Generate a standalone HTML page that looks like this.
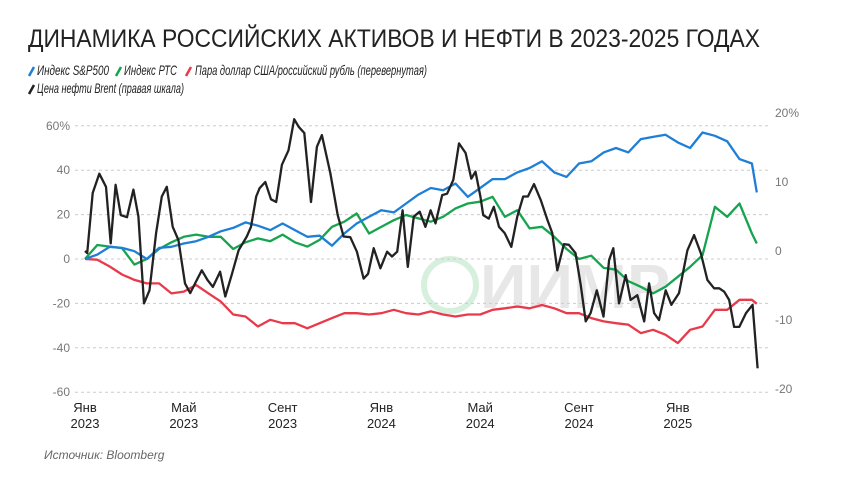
<!DOCTYPE html>
<html><head><meta charset="utf-8"><style>
body{margin:0;background:#fff;}
svg{display:block;font-family:"Liberation Sans",sans-serif;}
</style></head><body>
<svg id="chart" width="860" height="484" viewBox="0 0 860 484">
<rect width="860" height="484" fill="#fff"/>
<text x="28" y="47" font-size="25" fill="#222" textLength="732" lengthAdjust="spacingAndGlyphs">ДИНАМИКА РОССИЙСКИХ АКТИВОВ И НЕФТИ В 2023-2025 ГОДАХ</text>
<g font-size="14" font-style="italic" fill="#222">
<g><line x1="29" y1="76" x2="34" y2="67" stroke="#1f7fd6" stroke-width="2.5"/><text x="37" y="75" textLength="72" lengthAdjust="spacingAndGlyphs">Индекс S&amp;P500</text></g>
<g><line x1="116" y1="76" x2="121" y2="67" stroke="#17a44f" stroke-width="2.5"/><text x="124" y="75" textLength="53" lengthAdjust="spacingAndGlyphs">Индекс РТС</text></g>
<g><line x1="186" y1="76" x2="191" y2="67" stroke="#e83a4a" stroke-width="2.5"/><text x="195" y="75" textLength="232" lengthAdjust="spacingAndGlyphs">Пара доллар США/российский рубль (перевернутая)</text></g>
<g><line x1="29" y1="94" x2="34" y2="85" stroke="#222" stroke-width="2.5"/><text x="37" y="93" textLength="147" lengthAdjust="spacingAndGlyphs">Цена нефти Brent (правая шкала)</text></g>
</g>
<g id="watermark" opacity="0.35">
<circle cx="450" cy="285" r="26" fill="none" stroke="#8fd39f" stroke-width="6"/>
<text x="480" y="308" font-size="62" font-weight="bold" fill="#bbb" textLength="190" lengthAdjust="spacingAndGlyphs">ИИМР</text>
</g>
<g id="grid"></g><g id="axes"></g><g id="series"></g>
<text x="44" y="459" font-size="12" font-style="italic" fill="#666">Источник: Bloomberg</text>
</svg>
<script>
const leftTicks=[60,40,20,0,-20,-40,-60];
const rightTicks=[20,10,0,-10,-20];
const xTickMonths=[0,4,8,12,16,20,24];
const xTickLabels=[["Янв","2023"],["Май","2023"],["Сент","2023"],["Янв","2024"],["Май","2024"],["Сент","2024"],["Янв","2025"]];
const months=[0,0.5,1,1.5,2,2.5,3,3.5,4,4.5,5,5.5,6,6.5,7,7.5,8,8.5,9,9.5,10,10.5,11,11.5,12,12.5,13,13.5,14,14.5,15,15.5,16,16.5,17,17.5,18,18.5,19,19.5,20,20.5,21,21.5,22,22.5,23,23.5,24,24.5,25,25.5,26,26.5,27,27.2];
const sp500=[0,2,5.5,5,3.5,0,5,5.5,7,8,10,12.5,14,16.5,15,13,16,13,10,10.5,6,11.5,16,19,22,21,25,29,32,31,34,28,32,36,36,39,41,44,39,37,43,44,48,50,48,54,55,56,52.5,50,57,55.5,53,45,43,30];
const rts=[0,6.3,5.6,4.9,-2.5,0,4.5,7.5,10,11,10,10,4.5,7.5,9.3,8,11,7.5,5.6,8.6,14.5,16.8,20.5,11.5,14.5,17.5,19.8,18.3,16.8,19,22.8,25,25.8,28,19,22,13.8,14.5,10,4.5,0,1.5,-4,-4.8,-10,-12.5,-15.5,-12.5,-8,-3.5,1.7,23.5,19,25,11.5,7];
const usdrub=[0,-0.3,-3.4,-7,-9.4,-11,-11,-15.5,-14.7,-11.7,-15.5,-19.2,-25,-25.9,-30.4,-27.4,-28.9,-28.9,-31.2,-28.9,-26.6,-24.4,-24.4,-25,-24.4,-22.9,-24.4,-25,-23.6,-25,-25.9,-25,-25,-22.9,-22.2,-21.4,-22.2,-20.7,-22.2,-24.4,-24.4,-26.6,-28.1,-28.9,-29.6,-33.4,-31.9,-34.1,-37.9,-31.9,-30.4,-22.9,-22.9,-18.4,-18.4,-20.2];
const brentMonths=[0.09,0.31,0.58,0.85,1.04,1.24,1.45,1.70,1.96,2.16,2.39,2.61,2.88,3.11,3.31,3.55,3.78,4.05,4.26,4.5,4.73,4.96,5.18,5.47,5.68,5.95,6.22,6.55,6.72,6.93,7.07,7.30,7.53,7.74,7.97,8.24,8.47,8.65,8.88,9.15,9.39,9.59,9.93,10.23,10.47,10.74,11.01,11.28,11.46,11.69,11.96,12.23,12.43,12.64,12.86,13.07,13.31,13.55,13.78,13.99,14.19,14.46,14.66,14.91,15.14,15.41,15.64,15.81,16.01,16.12,16.35,16.55,16.76,16.99,17.26,17.5,17.74,17.93,18.18,18.45,18.72,18.92,19.12,19.39,19.59,19.86,20.07,20.27,20.47,20.72,20.99,21.22,21.39,21.62,21.89,22.09,22.36,22.64,22.84,23.04,23.24,23.51,23.74,24.05,24.39,24.66,24.93,25.2,25.47,25.68,25.88,26.08,26.28,26.49,26.76,27.03,27.23];
const brent=[-0.3,8.4,11.2,9.3,1.1,9.6,5.2,4.9,8.9,5.0,-7.6,-5.7,2.6,7.9,9.3,3.5,1.6,-4.7,-6.1,-4.4,-2.8,-4.2,-5.2,-3.0,-6.6,-3.3,0.1,2.1,3.5,7.9,9.1,10.0,7.5,7.1,12.5,14.6,19.1,18.0,17.1,7.1,15.1,16.8,11.3,5.2,2.1,2.0,-0.1,-4.0,-3.3,0.4,-2.5,-0.1,-0.8,-0.1,5.9,-2.3,5.0,5.7,3.5,5.9,4.0,8.1,8.3,10.3,15.6,14.2,10.5,11.5,7.9,5.2,4.7,6.4,3.5,2.6,0.6,5.0,7.9,7.9,9.7,7.4,4.5,2.6,-2.8,1.0,0.9,-0.3,-4.9,-10.2,-9.0,-5.7,-9.5,-1.3,0.4,-7.6,-3.5,-7.1,-6.4,-10.2,-4.7,-9.0,-10.0,-5.7,-7.8,-6.1,0.1,2.3,-0.3,-4.2,-5.4,-5.4,-5.9,-7.1,-11.0,-11.0,-9.0,-7.8,-17.0];

const NS="http://www.w3.org/2000/svg";
const xS=m=>85+24.7*m;
const yL=v=>259-v*2.22;
const yR=v=>251-v*6.9;
function mk(tag,attrs,parent){const e=document.createElementNS(NS,tag);for(const k in attrs)e.setAttribute(k,attrs[k]);parent.appendChild(e);return e;}
const grid=document.getElementById('grid'),axes=document.getElementById('axes'),ser=document.getElementById('series');
leftTicks.forEach(t=>{
  const l=mk('line',{x1:75,x2:770,y1:yL(t),y2:yL(t),stroke:'#ccc','stroke-width':1,'stroke-dasharray':'3,3'},grid);
  
  
  const tx=mk('text',{x:70,y:yL(t)+4,'text-anchor':'end','font-size':12,fill:'#777'},axes);
  tx.textContent=t===60?'60%':String(t);
  
  
});
rightTicks.forEach(t=>{
  const tx=mk('text',{x:775,y:yR(t)+4,'font-size':12,fill:'#777'},axes);
  tx.textContent=t===20?'20%':String(t);
  
  
});
xTickMonths.forEach((m,i)=>{
  const a=mk('text',{x:xS(m),y:412,'text-anchor':'middle','font-size':13,fill:'#222'},axes);
  a.textContent=xTickLabels[i][0];
  
  
  const b=mk('text',{x:xS(m),y:428,'text-anchor':'middle','font-size':13,fill:'#222'},axes);
  b.textContent=xTickLabels[i][1];
  
  
});
function line(xs,ys,yf,color,name){
  const d=xs.map((m,i)=>(i?'L':'M')+xS(m).toFixed(1)+','+yf(ys[i]).toFixed(1)).join('');
  const p=mk('path',{d:d,fill:'none',stroke:color,'stroke-width':2.3,'stroke-linejoin':'round'},ser);
  
  
}
line(months,usdrub,yL,'#e83a4a','usdrub-line');
line(months,rts,yL,'#17a44f','rts-line');
line(months,sp500,yL,'#1f7fd6','sp500-line');
line([0].concat(brentMonths),[0].concat(brent),yR,'#222','brent-line');
</script>
</body></html>
